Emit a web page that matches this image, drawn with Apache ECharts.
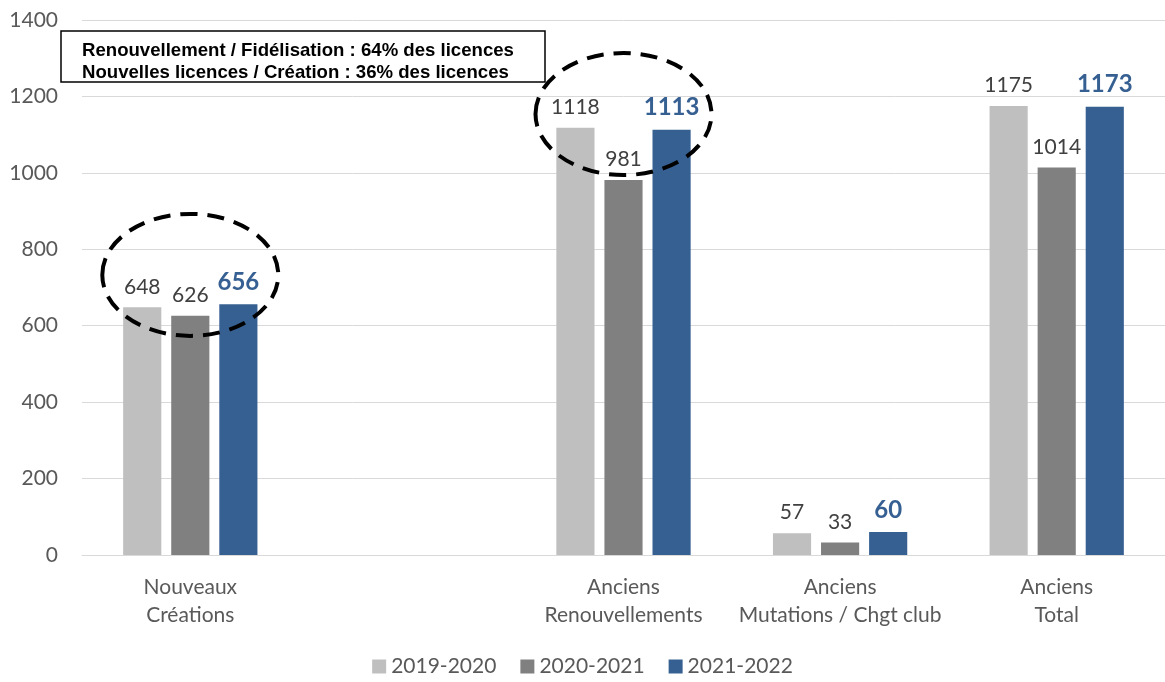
<!DOCTYPE html>
<html><head><meta charset="utf-8">
<script src="https://cdn.jsdelivr.net/npm/echarts@6/dist/echarts.min.js"></script>
<style>html,body{margin:0;padding:0;background:#fff}#c{width:1165px;height:682px}</style>
</head><body><div id="c"></div>
<script>
const categories = ['Nouveaux\nCréations', '', 'Anciens\nRenouvellements', 'Anciens\nMutations / Chgt club', 'Anciens\nTotal'];
const seriesNames = ['2019-2020', '2020-2021', '2021-2022'];
const s2019 = [648, null, 1118, 57, 1175];
const s2020 = [626, null, 981, 33, 1014];
const s2021 = [656, null, 1113, 60, 1173];
const yTicks = [0, 200, 400, 600, 800, 1000, 1200, 1400];
const noteLines = ['Renouvellement / Fidélisation : 64% des licences', 'Nouvelles licences / Création : 36% des licences'];

const FONT = 'Lato, "Noto Sans", sans-serif';
const colors = ['#BFBFBF', '#808080', '#376092'];
const chart = echarts.init(document.getElementById('c'));

function mk(name, data, i) {
  const blue = i === 2;
  return {
    name, type: 'bar', data,
    barGap: '26%', barCategoryGap: '38%',
    itemStyle: { color: colors[i] },
    label: {
      show: true, position: 'top', distance: 10,
      fontFamily: FONT,
      fontSize: blue ? 24 : 21,
      fontWeight: blue ? 'bold' : 'normal',
      color: blue ? '#376092' : '#404040'
    }
  };
}

chart.setOption({
  animation: false,
  textStyle: { fontFamily: FONT },
  grid: { left: 82, right: 0, top: 20, bottom: 127 },
  xAxis: {
    type: 'category', data: categories,
    axisLine: { show: true, lineStyle: { color: '#D9D9D9' } },
    axisTick: { show: false },
    axisLabel: { color: '#595959', fontSize: 21, lineHeight: 28, margin: 18, interval: 0, fontFamily: FONT }
  },
  yAxis: {
    type: 'value', min: yTicks[0], max: yTicks[yTicks.length - 1], interval: 200,
    axisLine: { show: false }, axisTick: { show: false },
    splitLine: { lineStyle: { color: '#D9D9D9', width: 1 } },
    axisLabel: { color: '#595959', fontSize: 21, margin: 24, fontFamily: FONT, formatter: v => String(v) }
  },
  legend: {
    bottom: 0, left: 'center', itemWidth: 14, itemHeight: 14, itemGap: 24,
    icon: 'rect',
    textStyle: { color: '#595959', fontSize: 21, fontFamily: FONT },
    data: seriesNames
  },
  series: [mk(seriesNames[0], s2019, 0), mk(seriesNames[1], s2020, 1), mk(seriesNames[2], s2021, 2)]
});

function ell(cat, val) {
  const p = chart.convertToPixel({ gridIndex: 0 }, [cat, val]);
  return {
    type: 'ellipse', silent: true, z: 100,
    shape: { cx: p[0], cy: p[1], rx: 88, ry: 61 },
    style: { fill: 'none', stroke: '#000', lineWidth: 4, lineDash: [17, 10] }
  };
}

chart.setOption({
  graphic: [
    { type: 'rect', z: 100, shape: { x: 61, y: 31, width: 484, height: 51 },
      style: { fill: '#fff', stroke: '#000', lineWidth: 1.5 } },
    { type: 'text', z: 101, left: 82, top: 40,
      style: { text: noteLines.join('\n'), font: 'bold 18.6px "Liberation Sans", Arial, sans-serif', lineHeight: 22, fill: '#000' } },
    ell(0, 733),
    ell(2, 1154)
  ]
});
</script></body></html>
